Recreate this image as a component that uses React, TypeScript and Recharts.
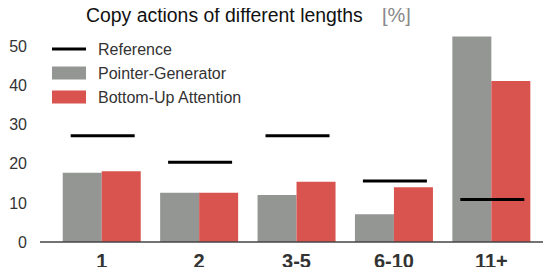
import React from 'react';
import { ComposedChart, Bar, Scatter, XAxis, YAxis } from 'recharts';

const categories = ['1', '2', '3-5', '6-10', '11+'];
const reference = [27.2, 20.4, 27.2, 15.6, 10.9];
const pointerGenerator = [17.7, 12.6, 12.0, 7.1, 52.6];
const bottomUp = [18.1, 12.6, 15.4, 14.0, 41.2];
const yTicks = [0, 10, 20, 30, 40, 50];

const GRAY = '#949693';
const RED = '#d9534f';
const FONT = '"Liberation Sans", Arial, sans-serif';

const data = categories.map((c, i) => ({
    name: c,
    reference: reference[i],
    pointer: pointerGenerator[i],
    bottomUp: bottomUp[i],
}));

// horizontal black dash for the reference value
const RefDash = (props: any) => {
    const { cx, cy } = props;
    if (cx == null || cy == null) return null;
    return <line x1={cx - 31} x2={cx + 33} y1={cy} y2={cy} stroke="#000" strokeWidth={3} />;
};

const legendItems = [
    { name: 'Reference', kind: 'line', color: '#000' },
    { name: 'Pointer-Generator', kind: 'rect', color: GRAY },
    { name: 'Bottom-Up Attention', kind: 'rect', color: RED },
];

const App = () => {
    return (
        <div style={{ position: 'relative', width: 551, height: 275, margin: -8, fontFamily: FONT }}>
            <ComposedChart
                width={551}
                height={275}
                data={data}
                margin={{ top: 27, right: 0, bottom: 0, left: 0 }}
                barCategoryGap="10%"
                barGap={0}
            >
                <XAxis
                    dataKey="name"
                    height={33}
                    padding={{ left: 13, right: 11 }}
                    tickLine={false}
                    tickSize={0}
                    tickMargin={12}
                    axisLine={{ stroke: '#444', strokeWidth: 1.5 }}
                    tick={{ fontSize: 20, fontWeight: 'bold', fill: '#333', fontFamily: FONT }}
                    interval={0}
                />
                <YAxis
                    width={40}
                    domain={[0, 55]}
                    ticks={yTicks}
                    axisLine={false}
                    tickLine={false}
                    tickSize={0}
                    tickMargin={13}
                    tick={{ fontSize: 16, fill: '#333', fontFamily: FONT }}
                />
                <Bar dataKey="pointer" name="Pointer-Generator" fill={GRAY} isAnimationActive={false} />
                <Bar dataKey="bottomUp" name="Bottom-Up Attention" fill={RED} isAnimationActive={false} />
                <Scatter dataKey="reference" name="Reference" shape={RefDash} isAnimationActive={false} />
            </ComposedChart>
            <svg
                width={551}
                height={275}
                style={{ position: 'absolute', left: 0, top: 0, pointerEvents: 'none' }}
                fontFamily={FONT}
            >
                <text x={86} y={22} fontSize={19.4} fill="#111">Copy actions of different lengths</text>
                <text x={382} y={22} fontSize={20} fill="#888">[%]</text>
                {legendItems.map((it, i) => {
                    const cy = 49 + i * 24;
                    return (
                        <g key={it.name}>
                            {it.kind === 'line' ? (
                                <line x1={52} x2={86} y1={cy} y2={cy} stroke={it.color} strokeWidth={3} />
                            ) : (
                                <rect x={52} y={cy - 6.5} width={34} height={13} fill={it.color} />
                            )}
                            <text x={98} y={cy + 6} fontSize={16} fill="#333">{it.name}</text>
                        </g>
                    );
                })}
            </svg>
        </div>
    );
};

export default App;
